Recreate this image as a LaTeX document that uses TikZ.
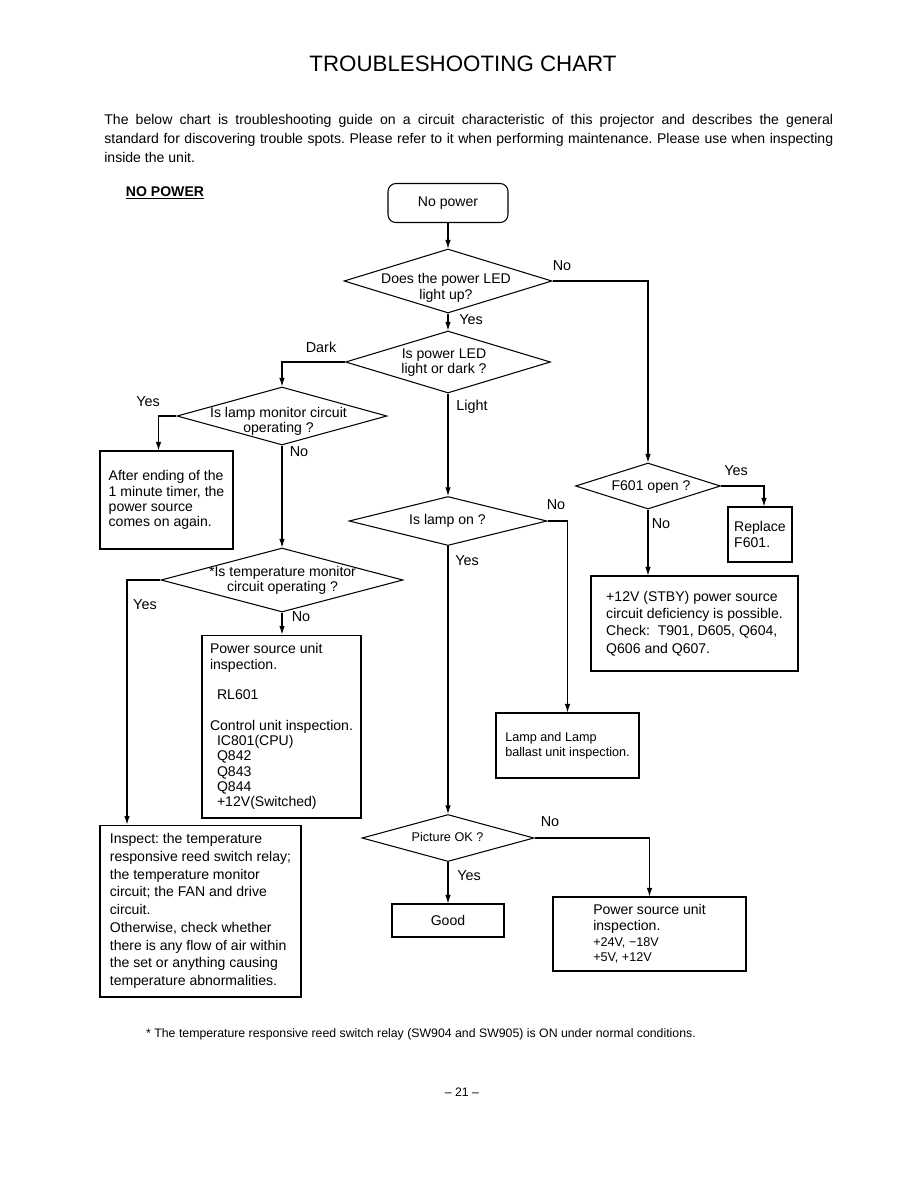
\documentclass[tikz,border=0pt]{standalone}
\usepackage{fontspec}
\setmainfont{Liberation Sans}
\usepackage{tikz}
\usetikzlibrary{arrows.meta,positioning,shapes.geometric,calc}
\tikzset{
  tsbox/.style={
    draw=black, line width=0.6pt, align=left, inner sep=0pt,
    font=\fontsize{8}{8.7}\selectfont
  },
  startbox/.style={tsbox, rounded corners=4.5pt, align=center},
  dec/.style={draw=black, line width=0.6pt, shape=diamond, inner sep=0pt},
  dectxt/.style={align=center, inner sep=0pt, font=\fontsize{8}{8.6}\selectfont},
  ans/.style={inner sep=0pt, font=\fontsize{8.2}{9}\selectfont},
  arr/.style={-{Latex[length=1.7mm,width=1.1mm]}, draw=black, line width=0.6pt},
  every picture/.append style={line join=miter}
}

\begin{document}
\frenchspacing
\begin{tikzpicture}[x=0.02cm, y=-0.02cm]
  \useasboundingbox (0,0) rectangle (918,1188);
  % HEADING
  \node[inner sep=0pt, font=\fontsize{12.7}{14}\selectfont] (title) at (463,64)
    {TROUBLESHOOTING CHART};
  \node[anchor=north west, text width=14.58cm, align=justify, inner sep=0pt,
    font=\fontsize{8}{10.8}\selectfont] (intro) at (104,114)
    {The below chart is troubleshooting guide on a circuit characteristic of this
     projector and describes the general\linebreak standard for discovering trouble spots.
     Please refer to it when performing maintenance. Please use when inspecting\linebreak
     inside the unit.};
  \node[inner sep=0pt, font=\fontsize{8}{9}\selectfont\bfseries] (nopwr) at (165,193)
    {\underline{NO POWER}};
  % START
  \node[startbox, minimum width=2.4cm, minimum height=0.78cm] (np) at (448,203) {No power};
  % DECISIONS
  \node[dec, minimum width=4.16cm, minimum height=1.28cm] (led) at (448,281) {};
  \node[dectxt, font=\fontsize{8}{9}\selectfont] (ledt) at (446,288) {Does the power LED\\light up?};
  \node[dec, minimum width=4.1cm, minimum height=1.24cm] (dark) at (448,362) {};
  \node[dectxt] (darkt) at (444,362.5) {Is power LED\\light or dark ?};
  \node[dec, minimum width=4.2cm, minimum height=1.16cm] (lmon) at (282,416) {};
  \node[dectxt] (lmont) at (278.5,421.5) {Is lamp monitor circuit\\operating ?};
  \node[dec, minimum width=3.96cm, minimum height=0.98cm] (lampon) at (448,521) {};
  \node[dectxt] (lampont) at (447.5,521) {Is lamp on ?};
  \node[dec, minimum width=2.9cm, minimum height=0.92cm] (f601) at (648,486) {};
  \node[dectxt] (f601t) at (651,487) {F601 open ?};
  \node[dec, minimum width=4.84cm, minimum height=1.28cm] (temp) at (282,580) {};
  \node[dectxt] (tempt) at (282.5,580.5) {*Is temperature monitor\\circuit operating ?};
  \node[dec, minimum width=3.44cm, minimum height=0.94cm] (pic) at (448,838) {};
  \node[dectxt, font=\fontsize{7.2}{8}\selectfont] (pict) at (447.5,837) {Picture OK ?};
  % RESULTS
  \node[tsbox, minimum width=2.66cm, minimum height=1.96cm] (timer) at (166.5,500)
    {After ending of the\\1 minute timer, the\\power source\\comes on again.};
  \node[tsbox, minimum width=1.28cm, minimum height=1.1cm,
    font=\fontsize{8}{9}\selectfont] (repl) at (760,534.5) {Replace\\F601.};
  \node[tsbox, minimum width=4.14cm, minimum height=1.9cm,
    font=\fontsize{8}{9.8}\selectfont] (stby) at (694.5,623.5)
    {+12V (STBY) power source\\circuit deficiency is possible.\\Check:\ \ T901, D605, Q604,\\Q606 and Q607.};
  \node[tsbox, minimum width=3.18cm, minimum height=3.66cm] (pwr) at (281.5,726.5)
    {Power source unit\\inspection.\\[8.7pt]\hspace*{4pt}RL601\\[8.7pt]Control unit inspection.\\
     \hspace*{4pt}IC801(CPU)\\\hspace*{4pt}Q842\\\hspace*{4pt}Q843\\\hspace*{4pt}Q844\\
     \hspace*{4pt}+12V(Switched)};
  \node[tsbox, minimum width=4.02cm, minimum height=3.44cm,
    font=\fontsize{8}{10.1}\selectfont] (insp) at (200.5,911)
    {Inspect: the temperature\\responsive reed switch relay;\\the temperature monitor\\
     circuit; the FAN and drive\\circuit.\\Otherwise, check whether\\
     there is any flow of air within\\the set or anything causing\\temperature abnormalities.};
  \node[tsbox, minimum width=2.86cm, minimum height=1.3cm,
    font=\fontsize{7.2}{8.5}\selectfont] (lampbox) at (567.5,745.5)
    {Lamp and Lamp\\ballast unit inspection.};
  \node[tsbox, align=center, minimum width=2.24cm, minimum height=0.66cm] (good) at (448,920.5) {Good};
  \node[tsbox, minimum width=3.86cm, minimum height=1.48cm,
    font=\fontsize{8}{8.9}\selectfont] (pwr2) at (649.5,934)
    {Power source unit\\inspection.\\{\fontsize{7.2}{8.9}\selectfont +24V, −18V}\\
     {\fontsize{7.2}{8.9}\selectfont +5V, +12V}};
  % ANSWERS
  \node[ans] (ledno) at (562,266) {No};
  \node[ans] (ledyes) at (471,320) {Yes};
  \node[ans] (darkd) at (321,347) {Dark};
  \node[ans] (darkl) at (472,407) {Light};
  \node[ans] (lmonyes) at (148,402) {Yes};
  \node[ans] (lmonno) at (299,452) {No};
  \node[ans] (lamponno) at (556,505) {No};
  \node[ans] (lamponyes) at (467,561) {Yes};
  \node[ans] (f601yes) at (736,471) {Yes};
  \node[ans] (f601no) at (661,524) {No};
  \node[ans] (tempyes) at (145,605) {Yes};
  \node[ans] (tempno) at (301,617) {No};
  \node[ans] (picno) at (550,822) {No};
  \node[ans] (picyes) at (469,876) {Yes};
  % CONNECTORS
  \draw[arr] (np.south) -- (led.north);
  \draw[arr] (led.east) -| (f601.north);
  \draw[arr] (led.south) -- (dark.north);
  \draw[arr] (dark.west) -| (lmon.north);
  \draw[arr] (dark.south) -- (lampon.north);
  \draw[arr] (lmon.west) -| ($(timer.north)+(-8,0)$);
  \draw[arr] (lmon.south) -- (temp.north);
  \draw[arr] (temp.west) -| ($(insp.north)+(-73.5,0)$);
  \draw[arr] (temp.south) -- (temp.south |- pwr.north);
  \draw[arr] (lampon.east) -| (lampbox.north);
  \draw[arr] (lampon.south) -- (pic.north);
  \draw[arr] (f601.east) -| ($(repl.north)+(4,0)$);
  \draw[arr] (f601.south) -- (f601.south |- stby.north);
  \draw[arr] (pic.east) -| (pwr2.north);
  \draw[arr] (pic.south) -- (good.north);
  % FOOTER
  \node[inner sep=0pt, font=\fontsize{7}{8}\selectfont] (fn) at (421,1034)
    {* The temperature responsive reed switch relay (SW904 and SW905) is ON under normal conditions.};
  \node[inner sep=0pt, font=\fontsize{7}{8}\selectfont] (pg) at (462,1092) {-- 21 --};
\end{tikzpicture}
\end{document}
